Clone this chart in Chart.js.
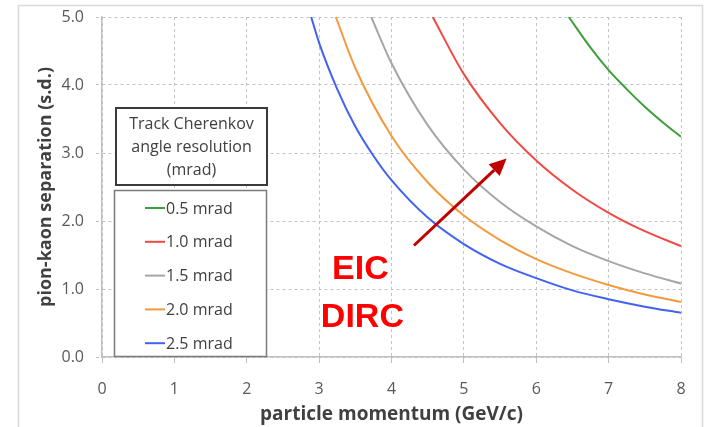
<!DOCTYPE html>
<html>
<head>
<meta charset="utf-8">
<script src="https://cdn.jsdelivr.net/npm/chart.js@4"></script>
<style>
  html, body { margin: 0; padding: 0; background: #fff; }
</style>
</head>
<body>
<canvas id="sepChart" width="712" height="427"></canvas>
<script>
// pion-kaon separation vs momentum, one curve per Cherenkov angle resolution
const mom05 = [6.45, 6.75, 7.0, 7.25, 7.5, 7.75, 8.0];
const sep05 = [5.0, 4.55, 4.22, 3.94, 3.68, 3.45, 3.24];
const mom10 = [4.57, 5.0, 5.5, 6.0, 6.5, 7.0, 7.5, 8.0];
const sep10 = [5.0, 4.16, 3.44, 2.89, 2.46, 2.12, 1.85, 1.63];
const mom15 = [3.72, 4.0, 4.5, 5.0, 5.5, 6.0, 6.5, 7.0, 7.5, 8.0];
const sep15 = [5.0, 4.32, 3.41, 2.76, 2.28, 1.92, 1.63, 1.41, 1.23, 1.08];
const mom20 = [3.23, 3.5, 4.0, 4.5, 5.0, 5.5, 6.0, 6.5, 7.0, 7.5, 8.0];
const sep20 = [5.0, 4.25, 3.25, 2.57, 2.08, 1.72, 1.44, 1.23, 1.06, 0.92, 0.81];
const mom25 = [2.89, 3.0, 3.25, 3.5, 3.75, 4.0, 4.5, 5.0, 5.5, 6.0, 6.5, 7.0, 7.5, 8.0];
const sep25 = [5.0, 4.62, 3.94, 3.39, 2.96, 2.60, 2.05, 1.66, 1.37, 1.16, 0.98, 0.85, 0.74, 0.65];

const resLabels = ["0.5 mrad", "1.0 mrad", "1.5 mrad", "2.0 mrad", "2.5 mrad"];
const legendTitle = ["Track Cherenkov", "angle resolution", "(mrad)"];
const xTicks = [0, 1, 2, 3, 4, 5, 6, 7, 8];
const yTicks = [0, 1, 2, 3, 4, 5];

// arrow (tail -> head) and label, in data units
const arrowFrom = [4.31, 1.64];
const arrowTo = [5.59, 2.92];
const tagText = ["EIC", "DIRC"];
const tagAt = [3.57, 1.25];

const font = "'Open Sans', sans-serif";

function pts(xs, ys) {
    return xs.map((x, i) => ({ x: x, y: ys[i] }));
}

function series(label, xs, ys, color) {
    return {
        label: label,
        data: pts(xs, ys),
        borderColor: color,
        backgroundColor: color,
        borderWidth: 2,
        pointRadius: 0,
        fill: false,
        cubicInterpolationMode: "monotone"
    };
}

// frame, legend boxes, arrow and text
const extras = {
    id: "extras",
    beforeDraw(chart) {
        const c = chart.ctx;
        c.save();
        c.fillStyle = "#fff";
        c.fillRect(0, 0, chart.width, chart.height);
        c.strokeStyle = "#d9d9d9";
        c.lineWidth = 1.5;
        c.strokeRect(18.5, 5.5, 684, 430);
        c.restore();
    },
    afterDatasetsDraw(chart) {
        const c = chart.ctx;
        const xs = chart.scales.x, ys = chart.scales.y;
        c.save();

        // arrow
        const x0 = xs.getPixelForValue(arrowFrom[0]), y0 = ys.getPixelForValue(arrowFrom[1]);
        const x1 = xs.getPixelForValue(arrowTo[0]), y1 = ys.getPixelForValue(arrowTo[1]);
        const ang = Math.atan2(y1 - y0, x1 - x0);
        const headLen = 17, headW = 8;
        const bx = x1 - headLen * Math.cos(ang), by = y1 - headLen * Math.sin(ang);
        c.strokeStyle = "#c00000";
        c.fillStyle = "#c00000";
        c.lineWidth = 3;
        c.beginPath();
        c.moveTo(x0, y0);
        c.lineTo(bx, by);
        c.stroke();
        c.beginPath();
        c.moveTo(x1, y1);
        c.lineTo(bx + headW * Math.sin(ang), by - headW * Math.cos(ang));
        c.lineTo(bx - headW * Math.sin(ang), by + headW * Math.cos(ang));
        c.closePath();
        c.fill();

        // EIC DIRC
        const tx = xs.getPixelForValue(tagAt[0]), ty = ys.getPixelForValue(tagAt[1]);
        c.fillStyle = "#ff0000";
        c.font = "bold 34px 'Liberation Sans', Arial, sans-serif";
        c.textAlign = "center";
        c.textBaseline = "middle";
        c.fillText(tagText[0], tx, ty - 2);
        c.fillText(tagText[1], tx + 2, ty + 46);

        // legend title box
        c.fillStyle = "#fff";
        c.fillRect(116, 108, 151, 77);
        c.strokeStyle = "#3a3a3a";
        c.lineWidth = 2;
        c.strokeRect(116, 108, 151, 77);
        c.fillStyle = "#404040";
        c.font = "16px " + font;
        legendTitle.forEach((t, i) => c.fillText(t, 191.5, 124 + i * 23));

        // legend entries
        c.fillStyle = "#fff";
        c.fillRect(114, 190, 153, 167);
        c.strokeStyle = "#7a7a7a";
        c.lineWidth = 1.5;
        c.strokeRect(114.5, 190.5, 152, 166);
        c.font = "16px " + font;
        c.textAlign = "left";
        chart.data.datasets.forEach((ds, i) => {
            const ly = 208 + i * 33.8;
            c.strokeStyle = ds.borderColor;
            c.lineWidth = 2;
            c.beginPath();
            c.moveTo(145, ly);
            c.lineTo(165, ly);
            c.stroke();
            c.fillStyle = "#404040";
            c.fillText(ds.label, 166, ly + 1);
        });
        c.restore();
    }
};

const ctx = document.getElementById("sepChart").getContext("2d");

new Chart(ctx, {
    type: "line",
    data: {
        datasets: [
            series(resLabels[0], mom05, sep05, "#3c9e3c"),
            series(resLabels[1], mom10, sep10, "#f04a44"),
            series(resLabels[2], mom15, sep15, "#a6a6a6"),
            series(resLabels[3], mom20, sep20, "#f29a3d"),
            series(resLabels[4], mom25, sep25, "#4262f2")
        ]
    },
    options: {
        responsive: false,
        animation: false,
        layout: { padding: { left: 0, right: 31, top: 17, bottom: 0 } },
        plugins: {
            legend: { display: false },
            tooltip: { enabled: false }
        },
        scales: {
            x: {
                type: "linear",
                min: 0,
                max: 8,
                afterBuildTicks: (s) => { s.ticks = xTicks.map(v => ({ value: v })); },
                afterFit: (s) => { s.height = 70; s.paddingLeft = 0; s.paddingRight = 0; },
                ticks: {
                    color: "#595959",
                    font: { family: font, size: 16 },
                    padding: 17
                },
                grid: {
                    color: "#c4c4c4",
                    tickBorderDash: [],
                    tickColor: "#bfbfbf",
                    tickLength: 6
                },
                border: { color: "#bfbfbf", width: 1.5, dash: [3, 3] },
                title: {
                    display: true,
                    text: "particle momentum (GeV/c)",
                    color: "#404040",
                    font: { family: font, size: 19, weight: "bold" },
                    padding: { top: 0, bottom: 1 }
                }
            },
            y: {
                min: 0,
                max: 5,
                afterBuildTicks: (s) => { s.ticks = yTicks.map(v => ({ value: v })); },
                afterFit: (s) => { s.width = 102; s.paddingTop = 0; s.paddingBottom = 0; },
                ticks: {
                    color: "#595959",
                    font: { family: font, size: 16 },
                    padding: 12,
                    callback: (v) => v.toFixed(1)
                },
                grid: {
                    color: "#c4c4c4",
                    tickBorderDash: [3, 3],
                    tickLength: 6
                },
                border: { color: "#bfbfbf", width: 1.5, dash: [3, 3] },
                title: {
                    display: true,
                    text: "pion-kaon separation (s.d.)",
                    color: "#404040",
                    font: { family: font, size: 18, weight: "bold" },
                    padding: { top: 35, bottom: 0 }
                }
            }
        }
    },
    plugins: [extras]
});
</script>
</body>
</html>
